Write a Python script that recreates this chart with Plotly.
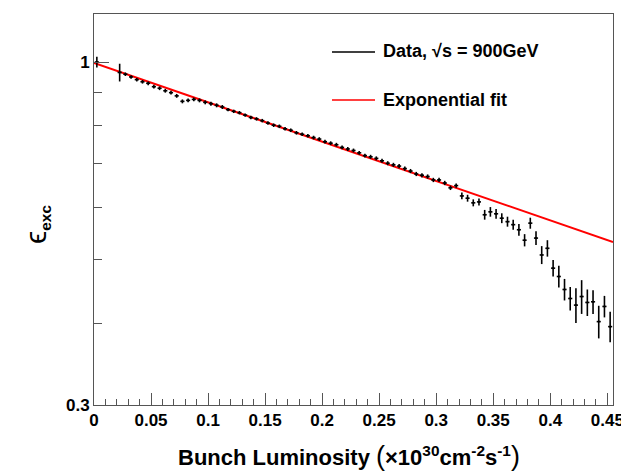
import plotly.graph_objects as go

# ---- data ----
lumi = [0.0025, 0.0225, 0.0275, 0.0325, 0.0375, 0.0425, 0.0475, 0.0525, 0.0575, 0.0625,
        0.0675, 0.0725, 0.0775, 0.0825, 0.0875, 0.0925, 0.0975, 0.1025, 0.1075, 0.1125,
        0.1175, 0.1225, 0.1275, 0.1325, 0.1375, 0.1425, 0.1475, 0.1525, 0.1575, 0.1625,
        0.1675, 0.1725, 0.1775, 0.1825, 0.1875, 0.1925, 0.1975, 0.2025, 0.2075, 0.2125,
        0.2175, 0.2225, 0.2275, 0.2325, 0.2375, 0.2425, 0.2475, 0.2525, 0.2575, 0.2625,
        0.2675, 0.2725, 0.2775, 0.2825, 0.2875, 0.2925, 0.2975, 0.3025, 0.3075, 0.3125,
        0.3175, 0.3225, 0.3275, 0.3325, 0.3375, 0.3425, 0.3475, 0.3525, 0.3575, 0.3625,
        0.3675, 0.3725, 0.3775, 0.3825, 0.3875, 0.3925, 0.3975, 0.4025, 0.4075, 0.4125,
        0.4175, 0.4225, 0.4275, 0.4325, 0.4375, 0.4425, 0.4475, 0.4525]

eff = [1.000, 0.964, 0.958, 0.949, 0.940, 0.933, 0.928, 0.917, 0.912, 0.904,
       0.898, 0.888, 0.871, 0.874, 0.877, 0.874, 0.868, 0.864, 0.859, 0.854,
       0.846, 0.841, 0.837, 0.830, 0.823, 0.819, 0.814, 0.807, 0.801, 0.798,
       0.791, 0.787, 0.780, 0.776, 0.772, 0.767, 0.763, 0.756, 0.752, 0.748,
       0.741, 0.737, 0.733, 0.727, 0.720, 0.717, 0.713, 0.707, 0.701, 0.697,
       0.694, 0.688, 0.682, 0.675, 0.672, 0.669, 0.661, 0.661, 0.654, 0.643,
       0.648, 0.625, 0.620, 0.610, 0.612, 0.585, 0.591, 0.587, 0.578, 0.571,
       0.565, 0.555, 0.535, 0.568, 0.539, 0.508, 0.520, 0.485, 0.471, 0.450,
       0.436, 0.426, 0.439, 0.430, 0.431, 0.402, 0.424, 0.395]

eff_err = [0.019, 0.030, 0.006, 0.006, 0.006, 0.006, 0.006, 0.006, 0.006, 0.006,
           0.006, 0.006, 0.006, 0.006, 0.006, 0.006, 0.006, 0.006, 0.006, 0.006,
           0.005, 0.005, 0.005, 0.005, 0.005, 0.005, 0.005, 0.005, 0.005, 0.005,
           0.005, 0.005, 0.005, 0.005, 0.005, 0.005, 0.005, 0.005, 0.005, 0.005,
           0.005, 0.005, 0.005, 0.005, 0.005, 0.005, 0.005, 0.005, 0.005, 0.005,
           0.005, 0.005, 0.005, 0.005, 0.005, 0.005, 0.005, 0.005, 0.005, 0.005,
           0.005, 0.0075, 0.0075, 0.0075, 0.0075, 0.010, 0.010, 0.010, 0.010, 0.010,
           0.010, 0.0115, 0.0115, 0.011, 0.013, 0.016, 0.015, 0.014, 0.018, 0.017,
           0.018, 0.026, 0.026, 0.020, 0.018, 0.023, 0.016, 0.021]

lumi_halfwidth = [0.0018] * len(lumi)

fit_x = [0.0, 0.455]
fit_y = [0.9965, 0.5317]

x_tick_vals = [0, 0.05, 0.1, 0.15, 0.2, 0.25, 0.3, 0.35, 0.4, 0.45]
x_tick_text = ["0", "0.05", "0.1", "0.15", "0.2", "0.25", "0.3", "0.35", "0.4", "0.45"]
y_tick_vals = [0.3, 1]
y_tick_text = ["0.3", "1"]
y_minor_vals = [0.4, 0.5, 0.6, 0.7, 0.8, 0.9]

FONT = "Liberation Sans, Arial, Helvetica, sans-serif"

fig = go.Figure()

fig.add_trace(go.Scatter(
    x=fit_x, y=fit_y, mode="lines",
    line=dict(color="#ff0000", width=2),
    showlegend=False, hoverinfo="skip",
))

fig.add_trace(go.Scatter(
    x=lumi, y=eff, mode="markers",
    marker=dict(size=2, color="black"),
    error_y=dict(type="data", array=eff_err, visible=True,
                 color="black", thickness=1.6, width=0),
    error_x=dict(type="data", array=lumi_halfwidth, visible=True,
                 color="black", thickness=1.6, width=0),
    showlegend=False,
))

# page offset (body margin) and plot area in viewport pixels
OFF = 8
W, H = 629, 473
L, R, T, B = 94, 613, 14, 405
pw, ph = R - L, B - T

def px2paper_x(px):
    return (px - L) / pw

def px2paper_y(py):
    return (B - py) / ph

# legend (manual)
fig.add_shape(type="line", xref="paper", yref="paper",
              x0=px2paper_x(332), x1=px2paper_x(375),
              y0=px2paper_y(52), y1=px2paper_y(52),
              line=dict(color="black", width=1.5))
fig.add_shape(type="line", xref="paper", yref="paper",
              x0=px2paper_x(332), x1=px2paper_x(375),
              y0=px2paper_y(100), y1=px2paper_y(100),
              line=dict(color="#ff0000", width=1.5))
fig.add_annotation(xref="paper", yref="paper",
                   x=px2paper_x(381), y=px2paper_y(51),
                   xanchor="left", yanchor="middle", showarrow=False,
                   text="<b>Data, √s = 900GeV</b>",
                   font=dict(family=FONT, size=18, color="black"))
fig.add_annotation(xref="paper", yref="paper",
                   x=px2paper_x(381), y=px2paper_y(100),
                   xanchor="left", yanchor="middle", showarrow=False,
                   text="<b>Exponential fit</b>",
                   font=dict(family=FONT, size=18, color="black"))

# axis titles
fig.add_annotation(xref="paper", yref="paper",
                   x=px2paper_x(349), y=px2paper_y(456),
                   xanchor="center", yanchor="middle", showarrow=False,
                   text="<b>Bunch Luminosity </b><span style='font-size:27px'>(</span>"
                        "<b>×10<sup>30</sup>cm<sup>-2</sup>s<sup>-1</sup></b>"
                        "<span style='font-size:27px'>)</span>",
                   font=dict(family=FONT, size=22, color="black"))
fig.add_annotation(xref="paper", yref="paper",
                   x=px2paper_x(36), y=px2paper_y(225),
                   xanchor="center", yanchor="middle", showarrow=False,
                   textangle=-90,
                   text="<span style='font-size:30px'>ϵ</span><sub><b>exc</b></sub>",
                   font=dict(family=FONT, size=22, color="black"))

fig.update_layout(
    width=W, height=H,
    margin=dict(l=L - OFF, r=W - (R - OFF), t=T - OFF, b=H - (B - OFF), pad=0),
    paper_bgcolor="white", plot_bgcolor="white",
    font=dict(family=FONT, size=17, color="black"),
    showlegend=False,
)

fig.update_xaxes(
    range=[0, 0.455],
    tickmode="array", tickvals=x_tick_vals, ticktext=x_tick_text,
    ticks="inside", ticklen=12, tickwidth=1, tickcolor="#555",
    minor=dict(dtick=0.01, tick0=0, ticks="inside", ticklen=6, tickcolor="#555", tickwidth=1),
    showgrid=False, zeroline=False,
    showline=True, linecolor="#555", linewidth=1, mirror=True,
    tickfont=dict(family=FONT, size=17, color="black", weight="bold"),
)

fig.update_yaxes(
    type="log", range=[-0.52288, 0.0732],
    tickmode="array", tickvals=y_tick_vals, ticktext=y_tick_text,
    ticks="inside", ticklen=15, tickwidth=1, tickcolor="#555",
    minor=dict(tickmode="array", tickvals=y_minor_vals, ticks="inside",
               ticklen=8, tickcolor="#555", tickwidth=1),
    showgrid=False, zeroline=False,
    showline=True, linecolor="#555", linewidth=1, mirror=True,
    tickfont=dict(family=FONT, size=17, color="black", weight="bold"),
)

fig.write_html("out.html")
